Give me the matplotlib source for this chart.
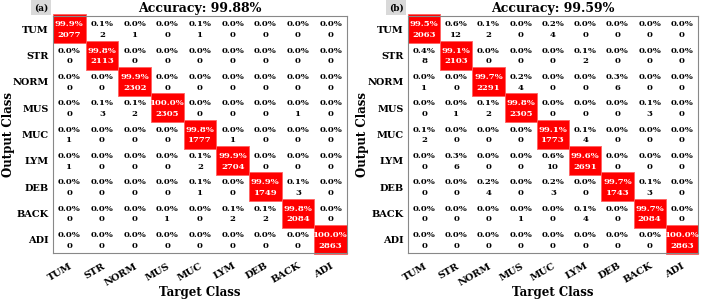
import matplotlib.pyplot as plt
from matplotlib.patches import Rectangle
import numpy as np

classes = ["TUM", "STR", "NORM", "MUS", "MUC", "LYM", "DEB", "BACK", "ADI"]

# rows = output class, cols = target class
counts_a = np.array([
    [2077, 2, 1, 0, 1, 0, 0, 0, 0],
    [0, 2113, 0, 0, 0, 0, 0, 0, 0],
    [0, 0, 2302, 0, 0, 0, 0, 0, 0],
    [0, 3, 2, 2305, 0, 0, 0, 1, 0],
    [1, 0, 0, 0, 1777, 1, 0, 0, 0],
    [1, 0, 0, 0, 2, 2704, 0, 0, 0],
    [0, 0, 0, 0, 1, 0, 1749, 3, 0],
    [0, 0, 0, 1, 0, 2, 2, 2084, 0],
    [0, 0, 0, 0, 0, 0, 0, 0, 2863],
])

counts_b = np.array([
    [2063, 12, 2, 0, 4, 0, 0, 0, 0],
    [8, 2103, 0, 0, 0, 2, 0, 0, 0],
    [1, 0, 2291, 4, 0, 0, 6, 0, 0],
    [0, 1, 2, 2305, 0, 0, 0, 3, 0],
    [2, 0, 0, 0, 1773, 4, 0, 0, 0],
    [0, 6, 0, 0, 10, 2691, 0, 0, 0],
    [0, 0, 4, 0, 3, 0, 1743, 3, 0],
    [0, 0, 0, 1, 0, 4, 0, 2084, 0],
    [0, 0, 0, 0, 0, 0, 0, 0, 2863],
])

plt.rcParams['font.family'] = ['DejaVu Serif']
plt.rcParams['font.weight'] = 'bold'

fig = plt.figure(figsize=(7.08, 3.0), dpi=100)


def draw_cm(ax, counts, tag, ylab_x):
    n = len(classes)
    pct = counts / counts.sum(axis=0, keepdims=True) * 100
    acc = np.trace(counts) / counts.sum() * 100
    ax.set_xlim(-0.5, n - 0.5)
    ax.set_ylim(n - 0.5, -0.5)
    for i in range(n):
        for j in range(n):
            if i == j:
                ax.add_patch(Rectangle((j - 0.5, i - 0.56), 1.0, 1.1, facecolor='#ff0000',
                                       edgecolor='#ff6060', lw=0.6, clip_on=False, zorder=2))
                col = 'white'
            else:
                col = 'black'
            ax.text(j, i - 0.18, f"{pct[i, j]:.1f}%", ha='center', va='center',
                    fontsize=6.1, fontweight='bold', color=col, zorder=3)
            ax.text(j, i + 0.22, f"{counts[i, j]}", ha='center', va='center',
                    fontsize=6.1, fontweight='bold', color=col, zorder=3)
    ax.set_xticks(range(n))
    ax.set_yticks(range(n))
    ax.set_xticklabels(classes, rotation=30, ha='right', rotation_mode='anchor', fontsize=7, fontweight='bold')
    ax.set_yticklabels(classes, fontsize=7, fontweight='bold')
    ax.tick_params(length=0, pad=3)
    ax.tick_params(axis='x', pad=6)
    for s in ax.spines.values():
        s.set_color('#888888')
        s.set_linewidth(0.8)
    ax.set_title(f"Accuracy: {acc:.2f}%", fontsize=9, fontweight='bold', pad=3)
    ax.set_xlabel("Target Class", fontsize=8.5, fontweight='bold', va='center')
    ax.xaxis.set_label_coords(0.5, -0.165)
    ax.set_ylabel("Output Class", fontsize=8.5, fontweight='bold', va='center')
    ax.yaxis.set_label_coords(ylab_x, 0.5)
    ax.text(-0.04, 1.035, tag, transform=ax.transAxes, ha='center', va='center',
            fontsize=6.5, fontweight='bold',
            bbox=dict(boxstyle='square,pad=0.3', facecolor='#d9d9d9', edgecolor='none'))


ax_a = fig.add_axes([53 / 708, 47 / 300, 294 / 708, 237 / 300])
ax_b = fig.add_axes([408 / 708, 47 / 300, 290 / 708, 237 / 300])
draw_cm(ax_a, counts_a, "(a)", -0.152)
draw_cm(ax_b, counts_b, "(b)", -0.158)

fig.savefig("out.png", dpi=100)
